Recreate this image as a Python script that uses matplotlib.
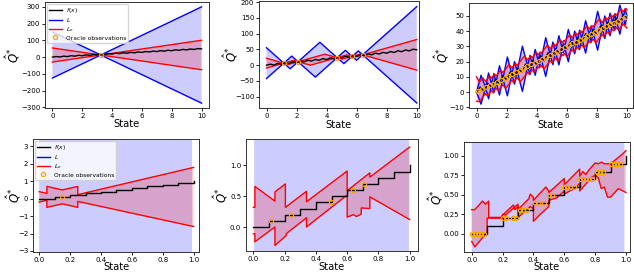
import matplotlib
matplotlib.use("Agg")
import matplotlib.pyplot as plt

# ---------------- shared ----------------
# oracle function on [0, 10] (zigzag around 5x)
F_TOP_X = [0.0, 0.25, 0.5, 0.75, 1.0, 1.25, 1.5, 1.75, 2.0, 2.25, 2.5, 2.75, 3.0, 3.25,
           3.5, 3.75, 4.0, 4.25, 4.5, 4.75, 5.0, 5.25, 5.5, 5.75, 6.0, 6.25, 6.5, 6.75,
           7.0, 7.25, 7.5, 7.75, 8.0, 8.25, 8.5, 8.75, 9.0, 9.25, 9.5, 9.75, 10.0]
F_TOP_Y = [0.0, 3.3, 0.5, 5.8, 3.0, 8.3, 5.5, 10.8, 8.0, 13.3, 10.5, 15.8, 13.0, 18.3,
           15.5, 20.8, 18.0, 23.3, 20.5, 25.8, 23.0, 28.3, 25.5, 30.8, 28.0, 33.3, 30.5,
           35.8, 33.0, 38.3, 35.5, 40.8, 38.0, 43.3, 40.5, 45.8, 43.0, 48.3, 45.5, 50.8, 49.0]

# step function on [0, 1]
F_BOT_X = [0.0, 0.1, 0.2, 0.3, 0.4, 0.5, 0.6, 0.7, 0.8, 0.9, 1.0]
F_BOT_Y = [0.0, 0.1, 0.2, 0.3, 0.4, 0.5, 0.6, 0.7, 0.8, 0.9, 1.0]

# ---------------- top left: one observation ----------------
TL_OBS_X = [3.24]
TL_OBS_Y = [12.5]
TL_L_X = [0.0, 3.24, 10.0]
TL_L_UP = [150.0, 12.5, 300.0]
TL_L_LO = [-125.0, 12.5, -275.0]
TL_LE_X = [0.0, 3.24, 10.0]
TL_LE_UP = [54.6, 12.5, 100.4]
TL_LE_LO = [-29.6, 12.5, -75.4]

# ---------------- top middle: five observations ----------------
TM_OBS_X = [1.15, 2.1, 4.7, 5.7, 6.4]
TM_OBS_Y = [6.5, 11.0, 24.0, 28.0, 33.0]
TM_L_UP_X = [0.0, 1.15, 1.68, 2.1, 3.55, 4.7, 5.25, 5.7, 6.11, 6.4, 10.0]
TM_L_UP_Y = [55.4, 6.5, 29.0, 11.0, 72.7, 24.0, 47.2, 28.0, 45.4, 33.0, 186.0]
TM_L_LO_X = [0.0, 1.15, 1.57, 2.1, 3.25, 4.7, 5.15, 5.7, 5.99, 6.4, 10.0]
TM_L_LO_Y = [-42.4, 6.5, -11.4, 11.0, -37.9, 24.0, 4.9, 28.0, 15.7, 33.0, -120.0]
TM_LE_UP_X = [0.0, 1.15, 1.79, 2.1, 3.88, 4.7, 5.35, 5.7, 6.24, 6.4, 10.0]
TM_LE_UP_Y = [22.0, 6.5, 15.2, 11.0, 35.0, 24.0, 32.8, 28.0, 35.3, 33.0, 81.6]
TM_LE_LO_X = [0.0, 1.15, 1.46, 2.1, 2.92, 4.7, 5.05, 5.7, 5.86, 6.4, 10.0]
TM_LE_LO_Y = [-9.0, 6.5, 2.3, 11.0, -0.1, 24.0, 19.3, 28.0, 25.8, 33.0, -15.6]

# ---------------- top right: dense observations ----------------
TR_OBS_X = [0.125, 0.375, 0.625, 0.875, 1.125, 1.375, 1.625, 1.875, 2.125, 2.375,
            2.625, 2.875, 3.125, 3.375, 3.625, 3.875, 4.125, 4.375, 4.625, 4.875,
            5.125, 5.375, 5.625, 5.875, 6.125, 6.375, 6.625, 6.875, 7.125, 7.375,
            7.625, 7.875, 8.125, 8.375, 8.625, 8.875, 9.125, 9.375, 9.625, 9.875]
TR_OBS_Y = [0.6, 1.9, 3.1, 4.4, 5.6, 6.9, 8.1, 9.4, 10.6, 11.9, 13.1, 14.4, 15.6, 16.9,
            18.1, 19.4, 20.6, 21.9, 23.1, 24.4, 25.6, 26.9, 28.1, 29.4, 30.6, 31.9,
            33.1, 34.4, 35.6, 36.9, 38.1, 39.4, 40.6, 41.9, 43.1, 44.4, 45.6, 46.9,
            48.1, 49.4]
TR_L_X = [0.0, 0.3, 0.6, 0.8, 1.0, 1.15, 1.3, 1.525, 1.75, 2.05, 2.35, 2.525, 2.7, 3.05,
          3.4, 3.55, 3.7, 3.9, 4.1, 4.2, 4.3, 4.6, 4.9, 5.075, 5.25, 5.475, 5.7, 5.775,
          5.85, 6.1, 6.35, 6.525, 6.7, 6.85, 7.0, 7.25, 7.5, 7.625, 7.75, 8.05, 8.35,
          8.525, 8.7, 8.875, 9.05, 9.175, 9.3, 9.525, 9.75, 9.875, 10.0]
TR_L_UP = [0.0, 11.0, 3.0, 12.5, 5.0, 12.1, 6.5, 17.2, 8.75, 23.0, 11.75, 20.0, 13.5,
           30.1, 17.0, 24.1, 18.5, 28.0, 20.5, 25.25, 21.5, 35.75, 24.5, 32.8, 26.25,
           37.0, 28.5, 32.1, 29.25, 41.1, 31.75, 40.0, 33.5, 40.6, 35.0, 46.9, 37.5,
           43.4, 38.75, 53.0, 41.75, 50.0, 43.5, 51.8, 45.25, 51.2, 46.5, 57.2, 48.75,
           54.7, 50.0]
TR_L_LO = [0.0, -8.0, 3.0, -4.5, 5.0, -0.6, 6.5, -2.0, 8.75, -2.5, 11.75, 5.2, 13.5,
           0.4, 17.0, 11.4, 18.5, 11.0, 20.5, 16.75, 21.5, 10.25, 24.5, 18.0, 26.25,
           17.8, 28.5, 25.7, 29.25, 19.9, 31.75, 25.2, 33.5, 27.9, 35.0, 25.6, 37.5,
           32.8, 38.75, 27.5, 41.75, 35.2, 43.5, 37.0, 45.25, 40.6, 46.5, 38.0, 48.75,
           44.1, 50.0]
TR_LE_UP_X = [0.0, 0.2, 0.414, 0.6, 0.876, 1.0, 1.207, 1.3, 1.61, 1.75, 2.164, 2.35,
              2.59, 2.7, 3.183, 3.4, 3.607, 3.7, 3.976, 4.1, 4.238, 4.3, 4.714, 4.9,
              5.142, 5.25, 5.561, 5.7, 5.8, 5.85, 6.195, 6.35, 6.592, 6.7, 6.907, 7.0,
              7.345, 7.5, 7.673, 7.75, 8.164, 8.35, 8.592, 8.7, 8.942, 9.05, 9.223,
              9.3, 9.611, 9.75, 9.923, 10.0]
TR_LE_UP_Y = [10.0, 6.5, 9.4, 7.0, 10.6, 9.0, 11.7, 10.5, 14.5, 12.75, 18.1, 15.75,
              18.9, 17.5, 23.8, 21.0, 23.7, 22.5, 26.1, 24.5, 26.3, 25.5, 30.9, 28.5,
              31.6, 30.25, 34.3, 32.5, 33.85, 33.25, 37.7, 35.75, 38.9, 37.5, 40.2, 39.0,
              43.5, 41.5, 43.7, 42.75, 48.1, 45.75, 48.9, 47.5, 50.6, 49.25, 51.5, 50.5,
              54.5, 52.75, 55.0, 54.0]
TR_LE_LO_X = [0.0, 0.186, 0.6, 0.724, 1.0, 1.093, 1.3, 1.44, 1.75, 1.936, 2.35, 2.459,
              2.7, 2.917, 3.4, 3.493, 3.7, 3.824, 4.1, 4.162, 4.3, 4.486, 4.9, 5.009,
              5.25, 5.39, 5.7, 5.747, 5.85, 6.005, 6.35, 6.459, 6.7, 6.793, 7.0, 7.155,
              7.5, 7.578, 7.75, 7.936, 8.35, 8.459, 8.7, 8.809, 9.05, 9.128, 9.3, 9.44,
              9.75, 9.828, 10.0]
TR_LE_LO_Y = [-6.0, -6.4, -1.0, -2.6, 1.0, -0.2, 2.5, 0.7, 4.75, 2.3, 7.75, 6.3, 9.5,
              6.7, 13.0, 11.8, 14.5, 12.9, 16.5, 15.7, 17.5, 15.1, 20.5, 19.1, 22.25,
              20.4, 24.5, 23.9, 25.25, 23.2, 27.75, 26.3, 29.5, 28.3, 31.0, 29.0, 33.5,
              32.5, 34.75, 32.3, 37.75, 36.3, 39.5, 38.1, 41.25, 40.2, 42.5, 40.7, 44.75,
              43.7, 42.0]

# ---------------- bottom left: one observation ----------------
BL_OBS_X = [0.15]
BL_OBS_Y = [0.1]
BL_L_X = [0.0, 0.99]
BL_L_UP = [40.0, 80.0]
BL_L_LO = [-40.0, -80.0]
BL_LE_X = [0.0, 0.05, 0.05, 0.15, 0.25, 0.25, 1.0]
BL_LE_UP = [0.4, 0.3, 0.7, 0.5, 0.7, 0.23, 1.79]
BL_LE_LO = [-0.2, -0.1, -0.5, -0.3, -0.5, -0.16, -1.6]

# ---------------- bottom middle: five observations ----------------
BM_OBS_X = [0.113, 0.24, 0.494, 0.638, 0.706]
BM_OBS_Y = [0.1, 0.2, 0.4, 0.6, 0.7]
BM_L_X = [0.005, 0.995]
BM_L_UP = [40.0, 80.0]
BM_L_LO = [-40.0, -80.0]
BM_LE_UP_X = [0.0, 0.01, 0.01, 0.138, 0.138, 0.205, 0.205, 0.34, 0.34, 0.6, 0.6,
              0.745, 0.745, 1.0]
BM_LE_UP_Y = [0.32, 0.32, 0.66, 0.42, 0.57, 0.70, 0.32, 0.58, 0.41, 0.91, 0.59,
              0.88, 0.81, 1.3]
BM_LE_LO_X = [0.0, 0.01, 0.01, 0.138, 0.138, 0.21, 0.21, 0.34, 0.34, 0.6, 0.6, 0.64,
              0.66, 0.69, 0.69, 0.745, 0.745, 1.0]
BM_LE_LO_Y = [-0.11, -0.11, -0.24, 0.0, -0.3, -0.14, -0.11, 0.15, 0.0, 0.52, 0.16,
              0.2, 0.17, 0.21, 0.31, 0.3, 0.49, 0.12]

# ---------------- bottom right: dense observations ----------------
BR_OBS_X = [0.0, 0.02, 0.04, 0.06, 0.08, 0.2, 0.22, 0.27, 0.29, 0.31, 0.33, 0.36,
            0.41, 0.43, 0.47, 0.5, 0.52, 0.6, 0.62, 0.64, 0.66, 0.7, 0.72, 0.74,
            0.76, 0.78, 0.81, 0.83, 0.85, 0.9, 0.92, 0.94, 0.96]
BR_OBS_Y = [0.0, 0.0, 0.0, 0.0, 0.0, 0.2, 0.2, 0.2, 0.2, 0.3, 0.3, 0.3, 0.4, 0.4,
            0.4, 0.5, 0.5, 0.6, 0.6, 0.6, 0.6, 0.7, 0.7, 0.7, 0.7, 0.7, 0.8, 0.8,
            0.8, 0.9, 0.9, 0.9, 0.9]
BR_L_X = [0.0, 0.99]
BR_L_UP = [40.0, 80.0]
BR_L_LO = [-40.0, -80.0]
BR_LE_UP_X = [0.0, 0.02, 0.07, 0.09, 0.11, 0.11, 0.19, 0.2, 0.27, 0.28, 0.3, 0.3,
              0.37, 0.38, 0.4, 0.4, 0.48, 0.5, 0.5, 0.6, 0.6, 0.7, 0.7, 0.72, 0.74,
              0.76, 0.8, 0.82, 0.84, 0.86, 0.9, 0.95, 0.98, 1.0]
BR_LE_UP_Y = [0.31, 0.31, 0.42, 0.38, 0.42, 0.21, 0.21, 0.24, 0.37, 0.31, 0.35, 0.31,
              0.45, 0.51, 0.47, 0.43, 0.6, 0.55, 0.53, 0.71, 0.63, 0.83, 0.74, 0.8,
              0.76, 0.82, 0.91, 0.9, 0.92, 0.9, 0.9, 0.98, 1.03, 1.07]
BR_LE_LO_X = [0.0, 0.02, 0.1, 0.1, 0.2, 0.2, 0.22, 0.3, 0.3, 0.38, 0.4, 0.4, 0.44,
              0.5, 0.5, 0.55, 0.6, 0.6, 0.68, 0.7, 0.7, 0.78, 0.8, 0.82, 0.84, 0.86,
              0.88, 0.9, 0.95, 1.0]
BR_LE_LO_Y = [-0.1, -0.17, 0.02, 0.2, 0.2, 0.25, 0.24, 0.38, 0.21, 0.35, 0.32, 0.16,
              0.24, 0.35, 0.43, 0.46, 0.55, 0.51, 0.6, 0.65, 0.55, 0.73, 0.75, 0.72,
              0.58, 0.6, 0.47, 0.47, 0.58, 0.53]

FIG_W, FIG_H = 634, 274
BLUE_FILL = (0.0, 0.0, 1.0, 0.2)
RED_FILL = (1.0, 0.0, 0.0, 0.2)


def box(left, top, right, bottom):
    return [left / FIG_W, 1 - bottom / FIG_H, (right - left) / FIG_W, (bottom - top) / FIG_H]


def band(ax, x_up, y_up, x_lo, y_lo, color, fill):
    xs = list(x_up) + list(x_lo)[::-1]
    ys = list(y_up) + list(y_lo)[::-1]
    ax.fill(xs, ys, color=fill, lw=0)
    ax.plot(x_up, y_up, color=color, lw=1.0)
    line, = ax.plot(x_lo, y_lo, color=color, lw=1.0)
    return line


def panel(ax, f_x, f_y, step, obs_x, obs_y, blue, red, xlim, ylim, xticks, yticks,
          yfmt, xlab_y, ylab_x, legend=False):
    lb = band(ax, *blue, color="blue", fill=BLUE_FILL)
    lr = band(ax, *red, color="red", fill=RED_FILL)
    lf, = ax.plot(f_x, f_y, color="black", lw=1.0, drawstyle="steps-post" if step else "default")
    lo, = ax.plot(obs_x, obs_y, ls="none", marker="o", ms=3, mfc="none", mec="orange", mew=0.9)
    ax.set_xlim(*xlim)
    ax.set_ylim(*ylim)
    ax.set_xticks(xticks)
    ax.set_yticks(yticks)
    ax.set_xticklabels([f"{v:g}" if isinstance(v, int) else f"{v:.1f}" for v in xticks])
    ax.set_yticklabels([yfmt.format(v).replace("-", "\u2212") for v in yticks])
    ax.tick_params(labelsize=5.0, length=2.5, width=0.6, pad=1.0)
    for s in ax.spines.values():
        s.set_linewidth(0.7)
        s.set_color("#333333")
    ax.set_xlabel("State", fontsize=7.2)
    ax.xaxis.set_label_coords(0.5, xlab_y)
    ax.set_ylabel(r"$\hat{Q}^{*}$", fontsize=8.5)
    ax.yaxis.set_label_coords(ylab_x, 0.5)
    if legend:
        ax.legend([lf, lb, lr, lo], ["$f(x)$", "$L$", "$L_e$", "Oracle observations"],
                  loc="upper left", fontsize=4.3, handlelength=2.2, borderpad=0.35,
                  labelspacing=0.2, handletextpad=0.6, framealpha=0.8,
                  edgecolor="#cccccc", borderaxespad=0.3)


def main():
    fig = plt.figure(figsize=(FIG_W / 100, FIG_H / 100), dpi=100)

    top_xt = [0, 2, 4, 6, 8, 10]
    bot_xt = [0.0, 0.2, 0.4, 0.6, 0.8, 1.0]

    ax = fig.add_axes(box(45, 2, 209, 108))
    panel(ax, F_TOP_X, F_TOP_Y, False, TL_OBS_X, TL_OBS_Y,
          (TL_L_X, TL_L_UP, TL_L_X, TL_L_LO), (TL_LE_X, TL_LE_UP, TL_LE_X, TL_LE_LO),
          (-0.5, 10.5), (-304, 329), top_xt, [-300, -200, -100, 0, 100, 200, 300],
          "{:d}", -0.105, -0.14, legend=True)

    ax = fig.add_axes(box(259, 1, 419, 108))
    panel(ax, F_TOP_X, F_TOP_Y, False, TM_OBS_X, TM_OBS_Y,
          (TM_L_UP_X, TM_L_UP_Y, TM_L_LO_X, TM_L_LO_Y),
          (TM_LE_UP_X, TM_LE_UP_Y, TM_LE_LO_X, TM_LE_LO_Y),
          (-0.5, 10.15), (-136, 204), top_xt, [-100, -50, 0, 50, 100, 150, 200], "{:d}",
          -0.11, -0.12)

    ax = fig.add_axes(box(469, 3, 633, 108))
    panel(ax, F_TOP_X, F_TOP_Y, False, TR_OBS_X, TR_OBS_Y,
          (TR_L_X, TR_L_UP, TR_L_X, TR_L_LO),
          (TR_LE_UP_X, TR_LE_UP_Y, TR_LE_LO_X, TR_LE_LO_Y),
          (-0.5, 10.4), (-10.5, 58.5), top_xt, [-10, 0, 10, 20, 30, 40, 50], "{:d}",
          -0.11, -0.11)

    ax = fig.add_axes(box(33, 139, 199, 252))
    panel(ax, F_BOT_X, F_BOT_Y, True, BL_OBS_X, BL_OBS_Y,
          (BL_L_X, BL_L_UP, BL_L_X, BL_L_LO), (BL_LE_X, BL_LE_UP, BL_LE_X, BL_LE_LO),
          (-0.04, 1.035), (-3.06, 3.42), bot_xt, [-3, -2, -1, 0, 1, 2, 3], "{:d}",
          -0.09, -0.06, legend=True)

    ax = fig.add_axes(box(246, 139, 418, 251))
    panel(ax, F_BOT_X, F_BOT_Y, True, BM_OBS_X, BM_OBS_Y,
          (BM_L_X, BM_L_UP, BM_L_X, BM_L_LO),
          (BM_LE_UP_X, BM_LE_UP_Y, BM_LE_LO_X, BM_LE_LO_Y),
          (-0.047, 1.053), (-0.39, 1.43), bot_xt, [0.0, 0.5, 1.0], "{:.1f}",
          -0.095, -0.092)

    ax = fig.add_axes(box(464, 142, 630, 252))
    panel(ax, F_BOT_X, F_BOT_Y, True, BR_OBS_X, BR_OBS_Y,
          (BR_L_X, BR_L_UP, BR_L_X, BR_L_LO),
          (BR_LE_UP_X, BR_LE_UP_Y, BR_LE_LO_X, BR_LE_LO_Y),
          (-0.05, 1.026), (-0.235, 1.18), bot_xt, [0.0, 0.25, 0.5, 0.75, 1.0], "{:.2f}",
          -0.095, -0.115)

    fig.savefig("out.png", dpi=100)
    plt.close(fig)


if __name__ == "__main__":
    main()
